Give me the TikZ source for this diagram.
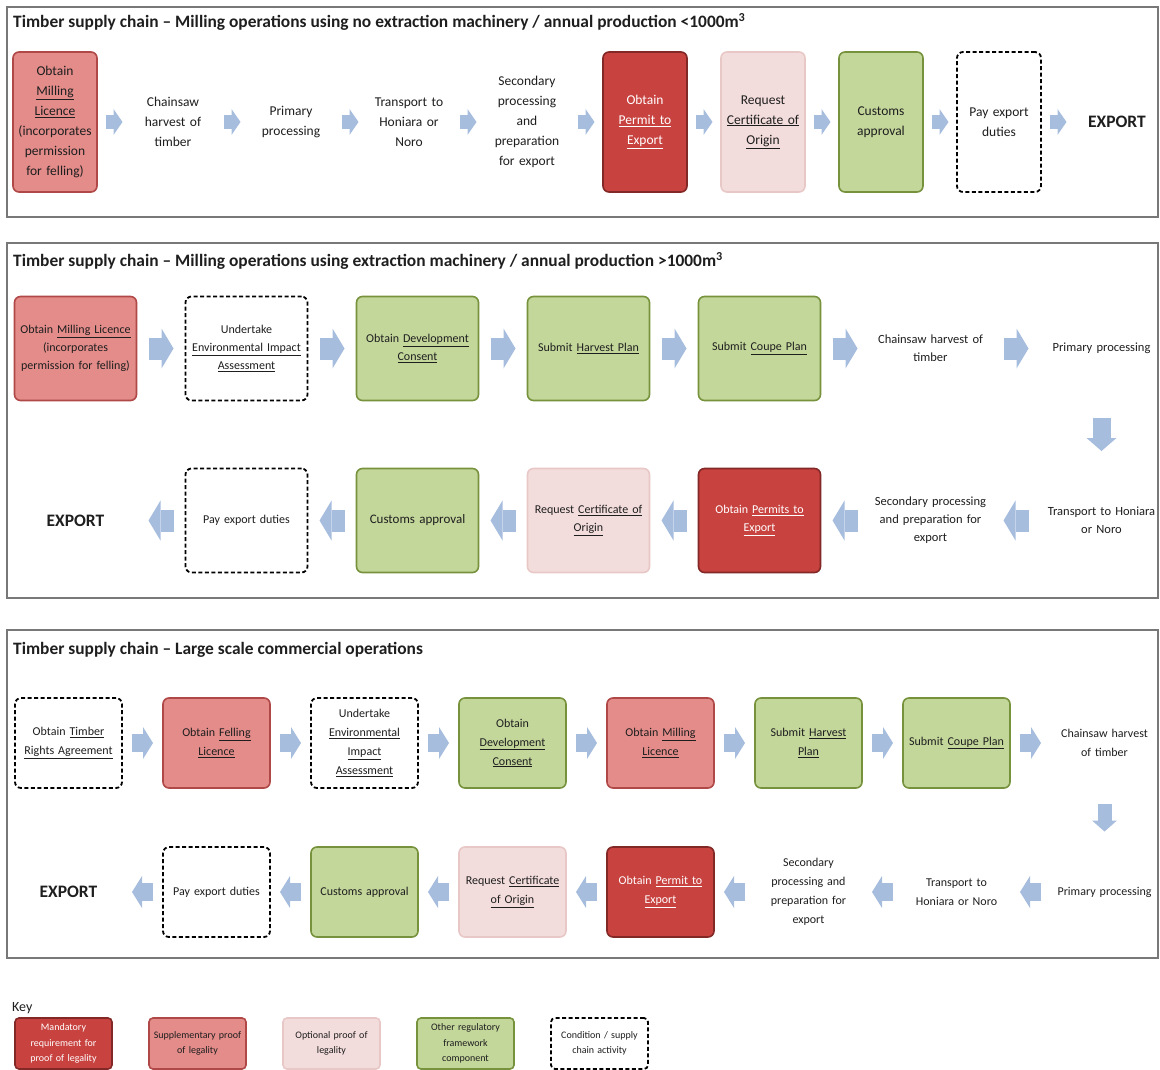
\documentclass[tikz,border=0pt]{standalone}
\usepackage{fontspec}
\setmainfont{Carlito}
\usetikzlibrary{positioning,arrows.meta}

\definecolor{mandred}{RGB}{200,66,63}
\definecolor{manddraw}{RGB}{130,40,38}
\definecolor{suppred}{RGB}{227,140,138}
\definecolor{suppdraw}{RGB}{175,72,70}
\definecolor{optpink}{RGB}{243,221,220}
\definecolor{optdraw}{RGB}{232,200,198}
\definecolor{othgreen}{RGB}{196,215,155}
\definecolor{othdraw}{RGB}{118,146,60}
\definecolor{arrowblue}{RGB}{166,189,222}
\definecolor{framegray}{RGB}{120,120,120}
\definecolor{inkgray}{RGB}{30,30,30}

\begin{document}
\begin{tikzpicture}[x=1pt,y=1pt,
  box/.style={rounded corners=6pt,line width=1.6pt,align=center,inner sep=2pt,outer sep=0pt,text=inkgray},
  mand/.style={box,fill=mandred,draw=manddraw,text=white},
  supp/.style={box,fill=suppred,draw=suppdraw},
  opt/.style={box,fill=optpink,draw=optdraw},
  other/.style={box,fill=othgreen,draw=othdraw},
  cond/.style={box,draw=black,fill=white,line width=1.8pt,dash pattern=on 4pt off 2.5pt},
  plain/.style={box,draw=none},
  rowA/.style={text width=80pt,minimum height=140pt,font=\fontsize{13.5}{20}\selectfont},
  rowB/.style={text width=118pt,minimum height=104pt,font=\fontsize{12}{18}\selectfont},
  rowC/.style={text width=103pt,minimum height=90pt,font=\fontsize{12}{19}\selectfont},
  keyrow/.style={text width=93pt,minimum height=51pt,rounded corners=4pt,font=\fontsize{10}{15.5}\selectfont},
  export/.style={font=\bfseries\fontsize{17.5}{20}\selectfont},
  title/.style={anchor=west,inner sep=0pt,text=inkgray,font=\bfseries\fontsize{17.4}{20}\selectfont},
  frame/.style={draw=framegray,line width=1.5pt},
  flowA/.style={draw=arrowblue,line width=14pt,-{Triangle[length=9pt,width=26pt,line width=0pt]},shorten <=8.5pt,shorten >=8.5pt},
  flowB/.style={draw=arrowblue,line width=22pt,-{Triangle[length=12pt,width=40pt,line width=0pt]},shorten <=12pt,shorten >=12pt},
  downB/.style={draw=arrowblue,line width=18pt,-{Triangle[length=13pt,width=30pt,line width=0pt]},shorten <=17.5pt,shorten >=17.5pt},
  flowC/.style={draw=arrowblue,line width=18pt,-{Triangle[length=10pt,width=32pt,line width=0pt]},shorten <=10pt,shorten >=10pt},
  downC/.style={draw=arrowblue,line width=14pt,-{Triangle[length=11pt,width=25pt,line width=0pt]},shorten <=15.5pt,shorten >=15.5pt}]

\useasboundingbox (0,0) rectangle (1160,-1070);

% panel frames
\draw[frame] (7,-7) rectangle (1158,-217);
\draw[frame] (7,-243) rectangle (1158,-598);
\draw[frame] (7,-630) rectangle (1158,-958);

% small scale milling
\node[title] (t1) at (13,-22) {Timber supply chain – Milling operations using no extraction machinery / annual production <1000m\textsuperscript{3}};
\node[supp,rowA] (a1) at (55,-122) {Obtain\\\underline{Milling}\\\underline{Licence}\\(incorporates\\permission\\for felling)};
\node[plain,rowA,right=34pt of a1] (a2) {Chainsaw\\harvest of\\timber};
\node[plain,rowA,right=34pt of a2] (a3) {Primary\\processing};
\node[plain,rowA,right=34pt of a3] (a4) {Transport to\\Honiara or\\Noro};
\node[plain,rowA,right=34pt of a4] (a5) {Secondary\\processing\\and\\preparation\\for export};
\node[mand,rowA,right=34pt of a5] (a6) {Obtain\\\underline{Permit to}\\\underline{Export}};
\node[opt,rowA,right=34pt of a6] (a7) {Request\\\underline{Certificate of}\\\underline{Origin}};
\node[other,rowA,right=34pt of a7] (a8) {Customs\\approval};
\node[cond,rowA,right=34pt of a8] (a9) {Pay export\\duties};
\node[plain,rowA,export,right=34pt of a9] (a10) {EXPORT};
\draw[flowA] (a1) -- (a2);
\draw[flowA] (a2) -- (a3);
\draw[flowA] (a3) -- (a4);
\draw[flowA] (a4) -- (a5);
\draw[flowA] (a5) -- (a6);
\draw[flowA] (a6) -- (a7);
\draw[flowA] (a7) -- (a8);
\draw[flowA] (a8) -- (a9);
\draw[flowA] (a9) -- (a10);

% milling with machinery
\node[title] (t2) at (13,-261) {Timber supply chain – Milling operations using extraction machinery / annual production >1000m\textsuperscript{3}};
\node[supp,rowB] (b1) at (75.5,-348.5) {Obtain \underline{Milling Licence}\\(incorporates\\permission for felling)};
\node[cond,rowB,right=49pt of b1] (b2) {Undertake\\\underline{Environmental Impact}\\\underline{Assessment}};
\node[other,rowB,right=49pt of b2] (b3) {Obtain \underline{Development}\\\underline{Consent}};
\node[other,rowB,right=49pt of b3] (b4) {Submit \underline{Harvest Plan}};
\node[other,rowB,right=49pt of b4] (b5) {Submit \underline{Coupe Plan}};
\node[plain,rowB,font=\fontsize{12.5}{18}\selectfont,right=49pt of b5] (b6) {Chainsaw harvest of\\timber};
\node[plain,rowB,font=\fontsize{12.5}{18}\selectfont,right=49pt of b6] (b7) {Primary processing};
\node[plain,rowB,font=\fontsize{12.5}{18}\selectfont,below=68pt of b7] (b8) {Transport to Honiara\\or Noro};
\node[plain,rowB,font=\fontsize{12.5}{18}\selectfont,left=49pt of b8] (b9) {Secondary processing\\and preparation for\\export};
\node[mand,rowB,left=49pt of b9] (b10) {Obtain \underline{Permits to}\\\underline{Export}};
\node[opt,rowB,left=49pt of b10] (b11) {Request \underline{Certificate of}\\\underline{Origin}};
\node[other,rowB,font=\fontsize{13}{18}\selectfont,left=49pt of b11] (b12) {Customs approval};
\node[cond,rowB,left=49pt of b12] (b13) {Pay export duties};
\node[plain,rowB,export,left=49pt of b13] (b14) {EXPORT};
\draw[flowB] (b1) -- (b2);
\draw[flowB] (b2) -- (b3);
\draw[flowB] (b3) -- (b4);
\draw[flowB] (b4) -- (b5);
\draw[flowB] (b5) -- (b6);
\draw[flowB] (b6) -- (b7);
\draw[downB] (b7) -- (b8);
\draw[flowB] (b8) -- (b9);
\draw[flowB] (b9) -- (b10);
\draw[flowB] (b10) -- (b11);
\draw[flowB] (b11) -- (b12);
\draw[flowB] (b12) -- (b13);
\draw[flowB] (b13) -- (b14);

% large scale commercial
\node[title] (t3) at (13,-650) {Timber supply chain – Large scale commercial operations};
\node[cond,rowC] (c1) at (68.5,-743) {Obtain \underline{Timber}\\\underline{Rights Agreement}};
\node[supp,rowC,right=41pt of c1] (c2) {Obtain \underline{Felling}\\\underline{Licence}};
\node[cond,rowC,right=41pt of c2] (c3) {Undertake\\\underline{Environmental}\\\underline{Impact}\\\underline{Assessment}};
\node[other,rowC,right=41pt of c3] (c4) {Obtain\\\underline{Development}\\\underline{Consent}};
\node[supp,rowC,right=41pt of c4] (c5) {Obtain \underline{Milling}\\\underline{Licence}};
\node[other,rowC,right=41pt of c5] (c6) {Submit \underline{Harvest}\\\underline{Plan}};
\node[other,rowC,right=41pt of c6] (c7) {Submit \underline{Coupe Plan}};
\node[plain,rowC,right=41pt of c7] (c8) {Chainsaw harvest\\of timber};
\node[plain,rowC,below=59pt of c8] (c9) {Primary processing};
\node[plain,rowC,left=41pt of c9] (c10) {Transport to\\Honiara or Noro};
\node[plain,rowC,left=41pt of c10] (c11) {Secondary\\processing and\\preparation for\\export};
\node[mand,rowC,left=41pt of c11] (c12) {Obtain \underline{Permit to}\\\underline{Export}};
\node[opt,rowC,left=41pt of c12] (c13) {Request \underline{Certificate}\\\underline{of Origin}};
\node[other,rowC,left=41pt of c13] (c14) {Customs approval};
\node[cond,rowC,left=41pt of c14] (c15) {Pay export duties};
\node[plain,rowC,export,left=41pt of c15] (c16) {EXPORT};
\draw[flowC] (c1) -- (c2);
\draw[flowC] (c2) -- (c3);
\draw[flowC] (c3) -- (c4);
\draw[flowC] (c4) -- (c5);
\draw[flowC] (c5) -- (c6);
\draw[flowC] (c6) -- (c7);
\draw[flowC] (c7) -- (c8);
\draw[downC] (c8) -- (c9);
\draw[flowC] (c9) -- (c10);
\draw[flowC] (c10) -- (c11);
\draw[flowC] (c11) -- (c12);
\draw[flowC] (c12) -- (c13);
\draw[flowC] (c13) -- (c14);
\draw[flowC] (c14) -- (c15);
\draw[flowC] (c15) -- (c16);

% key
\node[anchor=west,inner sep=0pt,text=inkgray,font=\fontsize{14}{16}\selectfont] (key) at (12,-1008) {Key};
\node[mand,keyrow] (k1) at (63.5,-1043.5) {Mandatory\\requirement for\\proof of legality};
\node[supp,keyrow,right=37pt of k1] (k2) {Supplementary proof\\of legality};
\node[opt,keyrow,right=37pt of k2] (k3) {Optional proof of\\legality};
\node[other,keyrow,right=37pt of k3] (k4) {Other regulatory\\framework\\component};
\node[cond,keyrow,right=37pt of k4] (k5) {Condition / supply\\chain activity};
\end{tikzpicture}
\end{document}
